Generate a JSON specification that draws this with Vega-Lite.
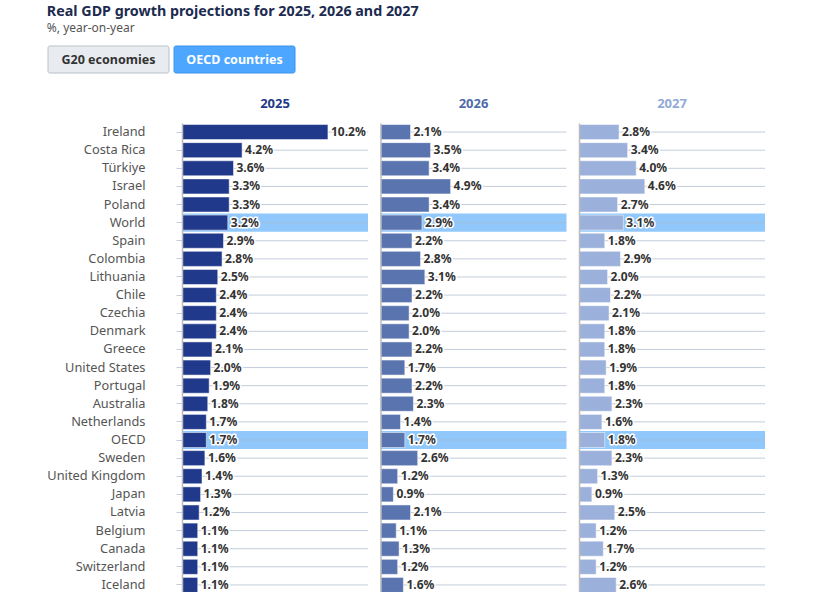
{
  "$schema": "https://vega.github.io/schema/vega-lite/v6.json",
  "padding": {"left": 46, "top": 5, "right": 5, "bottom": 0},
  "title": {
    "text": "Real GDP growth projections for 2025, 2026 and 2027",
    "subtitle": "%, year-on-year",
    "anchor": "start",
    "frame": "bounds",
    "font": "Noto Sans",
    "fontSize": 14.3,
    "fontWeight": "bold",
    "color": "#1c2b4f",
    "subtitleFont": "Noto Sans",
    "subtitleFontSize": 12,
    "subtitleColor": "#555555",
    "subtitlePadding": 3,
    "offset": 12,
    "limit": 700
  },
  "config": {"font": "Noto Sans", "view": {"stroke": null}},
  "datasets": {
    "buttons": [
      {"label": "G20 economies", "selected": "no"},
      {"label": "OECD countries", "selected": "yes"}
    ],
    "gdp": [
      {"country": "Ireland", "y2025": 10.2, "y2026": 2.1, "y2027": 2.8},
      {"country": "Costa Rica", "y2025": 4.2, "y2026": 3.5, "y2027": 3.4},
      {"country": "Türkiye", "y2025": 3.6, "y2026": 3.4, "y2027": 4.0},
      {"country": "Israel", "y2025": 3.3, "y2026": 4.9, "y2027": 4.6},
      {"country": "Poland", "y2025": 3.3, "y2026": 3.4, "y2027": 2.7},
      {"country": "World", "y2025": 3.2, "y2026": 2.9, "y2027": 3.1},
      {"country": "Spain", "y2025": 2.9, "y2026": 2.2, "y2027": 1.8},
      {"country": "Colombia", "y2025": 2.8, "y2026": 2.8, "y2027": 2.9},
      {"country": "Lithuania", "y2025": 2.5, "y2026": 3.1, "y2027": 2.0},
      {"country": "Chile", "y2025": 2.4, "y2026": 2.2, "y2027": 2.2},
      {"country": "Czechia", "y2025": 2.4, "y2026": 2.0, "y2027": 2.1},
      {"country": "Denmark", "y2025": 2.4, "y2026": 2.0, "y2027": 1.8},
      {"country": "Greece", "y2025": 2.1, "y2026": 2.2, "y2027": 1.8},
      {"country": "United States", "y2025": 2.0, "y2026": 1.7, "y2027": 1.9},
      {"country": "Portugal", "y2025": 1.9, "y2026": 2.2, "y2027": 1.8},
      {"country": "Australia", "y2025": 1.8, "y2026": 2.3, "y2027": 2.3},
      {"country": "Netherlands", "y2025": 1.7, "y2026": 1.4, "y2027": 1.6},
      {"country": "OECD", "y2025": 1.7, "y2026": 1.7, "y2027": 1.8},
      {"country": "Sweden", "y2025": 1.6, "y2026": 2.6, "y2027": 2.3},
      {"country": "United Kingdom", "y2025": 1.4, "y2026": 1.2, "y2027": 1.3},
      {"country": "Japan", "y2025": 1.3, "y2026": 0.9, "y2027": 0.9},
      {"country": "Latvia", "y2025": 1.2, "y2026": 2.1, "y2027": 2.5},
      {"country": "Belgium", "y2025": 1.1, "y2026": 1.1, "y2027": 1.2},
      {"country": "Canada", "y2025": 1.1, "y2026": 1.3, "y2027": 1.7},
      {"country": "Switzerland", "y2025": 1.1, "y2026": 1.2, "y2027": 1.2},
      {"country": "Iceland", "y2025": 1.1, "y2026": 1.6, "y2027": 2.6}
    ]
  },
  "columns": 1,
  "spacing": 24,
  "concat": [
    {
      "data": {"name": "buttons"},
      "width": 113,
      "height": 27,
      "encoding": {
        "x": {"field": "label", "type": "nominal", "sort": null, "axis": null,
              "scale": {"paddingInner": 0.04, "paddingOuter": 0, "range": [-134, 113]}}
      },
      "layer": [
        {
          "mark": {"type": "rect", "cornerRadius": 2, "strokeWidth": 1, "clip": false},
          "encoding": {
            "fill": {"condition": {"test": "datum.selected == 'yes'", "value": "#4da6ff"}, "value": "#e8ecf0"},
            "stroke": {"condition": {"test": "datum.selected == 'yes'", "value": "#3b93e8"}, "value": "#b8c0c8"}
          }
        },
        {
          "mark": {"type": "text", "fontWeight": "bold", "fontSize": 12.5, "font": "Noto Sans", "clip": false},
          "encoding": {
            "text": {"field": "label"},
            "color": {"condition": {"test": "datum.selected == 'yes'", "value": "#ffffff"}, "value": "#333333"}
          }
        }
      ]
    },
    {
      "spacing": 10.5,
      "hconcat": [
        {
          "width": 186,
          "height": 471,
          "title": {"text": "2025", "color": "#22398a", "fontSize": 13, "fontWeight": "bold", "anchor": "middle", "offset": 12, "font": "Noto Sans"},
          "data": {"name": "gdp"},
          "encoding": {
            "y": {"field": "country", "type": "nominal", "sort": null,
                  "scale": {"paddingInner": 0, "paddingOuter": 0, "domain": ["Ireland","Costa Rica","Türkiye","Israel","Poland","World","Spain","Colombia","Lithuania","Chile","Czechia","Denmark","Greece","United States","Portugal","Australia","Netherlands","OECD","Sweden","United Kingdom","Japan","Latvia","Belgium","Canada","Switzerland","Iceland"]},
                  "axis": {"title": null, "labelFontSize": 12.8, "labelColor": "#555555", "labelFont": "Noto Sans", "labelPadding": 31, "tickSize": 6, "tickColor": "#c5cbd9", "domainColor": "#bbbbbb", "domainWidth": 1.5, "grid": false, "bandPosition": 0.5}}
          },
          "layer": [
            {
              "transform": [{"filter": {"field": "country", "oneOf": ["World", "OECD"]}}],
              "mark": {"type": "rect", "color": "#90c8fc"},
              "encoding": {"x": {"datum": 0, "type": "quantitative", "scale": {"domain": [0, 13]}, "axis": null}, "x2": {"datum": 13}}
            },
            {
              "mark": {"type": "rule", "color": "#aab6cc", "opacity": 0.7, "strokeWidth": 1},
              "encoding": {"y": {"field": "country", "type": "nominal", "bandPosition": 0.5}, "x": {"datum": 0, "type": "quantitative"}, "x2": {"datum": 13}}
            },
            {
              "mark": {"type": "bar", "color": "#21398a", "height": {"band": 0.83}, "stroke": "white", "strokeOpacity": 0.5, "strokeWidth": 1},
              "encoding": {"x": {"field": "y2025", "type": "quantitative"}}
            },
            {
              "mark": {"type": "text", "align": "left", "dx": 3, "fontWeight": "bold", "fontSize": 12, "stroke": "white", "strokeWidth": 3, "strokeJoin": "round", "fill": "white", "text": {"expr": "format(datum.y2025, '.1f') + '%'"}},
              "encoding": {"x": {"field": "y2025", "type": "quantitative"}}
            },
            {
              "mark": {"type": "text", "align": "left", "dx": 3, "fontWeight": "bold", "fontSize": 12, "fill": "#333333", "text": {"expr": "format(datum.y2025, '.1f') + '%'"}},
              "encoding": {"x": {"field": "y2025", "type": "quantitative"}}
            }
          ]
        },
        {
          "width": 186,
          "height": 471,
          "title": {"text": "2026", "color": "#4f6baa", "fontSize": 13, "fontWeight": "bold", "anchor": "middle", "offset": 12, "font": "Noto Sans"},
          "data": {"name": "gdp"},
          "encoding": {
            "y": {"field": "country", "type": "nominal", "sort": null,
                  "scale": {"paddingInner": 0, "paddingOuter": 0, "domain": ["Ireland","Costa Rica","Türkiye","Israel","Poland","World","Spain","Colombia","Lithuania","Chile","Czechia","Denmark","Greece","United States","Portugal","Australia","Netherlands","OECD","Sweden","United Kingdom","Japan","Latvia","Belgium","Canada","Switzerland","Iceland"]},
                  "axis": {"title": null, "labels": false, "ticks": false, "domainColor": "#bbbbbb", "domainWidth": 1.5, "grid": false}}
          },
          "layer": [
            {
              "transform": [{"filter": {"field": "country", "oneOf": ["World", "OECD"]}}],
              "mark": {"type": "rect", "color": "#90c8fc"},
              "encoding": {"x": {"datum": 0, "type": "quantitative", "scale": {"domain": [0, 13]}, "axis": null}, "x2": {"datum": 13}}
            },
            {
              "mark": {"type": "rule", "color": "#aab6cc", "opacity": 0.7, "strokeWidth": 1},
              "encoding": {"y": {"field": "country", "type": "nominal", "bandPosition": 0.5}, "x": {"datum": 0, "type": "quantitative"}, "x2": {"datum": 13}}
            },
            {
              "mark": {"type": "bar", "color": "#5a74af", "height": {"band": 0.83}, "stroke": "white", "strokeOpacity": 0.5, "strokeWidth": 1},
              "encoding": {"x": {"field": "y2026", "type": "quantitative"}}
            },
            {
              "mark": {"type": "text", "align": "left", "dx": 3, "fontWeight": "bold", "fontSize": 12, "stroke": "white", "strokeWidth": 3, "strokeJoin": "round", "fill": "white", "text": {"expr": "format(datum.y2026, '.1f') + '%'"}},
              "encoding": {"x": {"field": "y2026", "type": "quantitative"}}
            },
            {
              "mark": {"type": "text", "align": "left", "dx": 3, "fontWeight": "bold", "fontSize": 12, "fill": "#333333", "text": {"expr": "format(datum.y2026, '.1f') + '%'"}},
              "encoding": {"x": {"field": "y2026", "type": "quantitative"}}
            }
          ]
        },
        {
          "width": 186,
          "height": 471,
          "title": {"text": "2027", "color": "#93aad6", "fontSize": 13, "fontWeight": "bold", "anchor": "middle", "offset": 12, "font": "Noto Sans"},
          "data": {"name": "gdp"},
          "encoding": {
            "y": {"field": "country", "type": "nominal", "sort": null,
                  "scale": {"paddingInner": 0, "paddingOuter": 0, "domain": ["Ireland","Costa Rica","Türkiye","Israel","Poland","World","Spain","Colombia","Lithuania","Chile","Czechia","Denmark","Greece","United States","Portugal","Australia","Netherlands","OECD","Sweden","United Kingdom","Japan","Latvia","Belgium","Canada","Switzerland","Iceland"]},
                  "axis": {"title": null, "labels": false, "ticks": false, "domainColor": "#bbbbbb", "domainWidth": 1.5, "grid": false}}
          },
          "layer": [
            {
              "transform": [{"filter": {"field": "country", "oneOf": ["World", "OECD"]}}],
              "mark": {"type": "rect", "color": "#90c8fc"},
              "encoding": {"x": {"datum": 0, "type": "quantitative", "scale": {"domain": [0, 13]}, "axis": null}, "x2": {"datum": 13}}
            },
            {
              "mark": {"type": "rule", "color": "#aab6cc", "opacity": 0.7, "strokeWidth": 1},
              "encoding": {"y": {"field": "country", "type": "nominal", "bandPosition": 0.5}, "x": {"datum": 0, "type": "quantitative"}, "x2": {"datum": 13}}
            },
            {
              "mark": {"type": "bar", "color": "#9bb0da", "height": {"band": 0.83}, "stroke": "white", "strokeOpacity": 0.5, "strokeWidth": 1},
              "encoding": {"x": {"field": "y2027", "type": "quantitative"}}
            },
            {
              "mark": {"type": "text", "align": "left", "dx": 3, "fontWeight": "bold", "fontSize": 12, "stroke": "white", "strokeWidth": 3, "strokeJoin": "round", "fill": "white", "text": {"expr": "format(datum.y2027, '.1f') + '%'"}},
              "encoding": {"x": {"field": "y2027", "type": "quantitative"}}
            },
            {
              "mark": {"type": "text", "align": "left", "dx": 3, "fontWeight": "bold", "fontSize": 12, "fill": "#333333", "text": {"expr": "format(datum.y2027, '.1f') + '%'"}},
              "encoding": {"x": {"field": "y2027", "type": "quantitative"}}
            }
          ]
        }
      ]
    }
  ]
}
